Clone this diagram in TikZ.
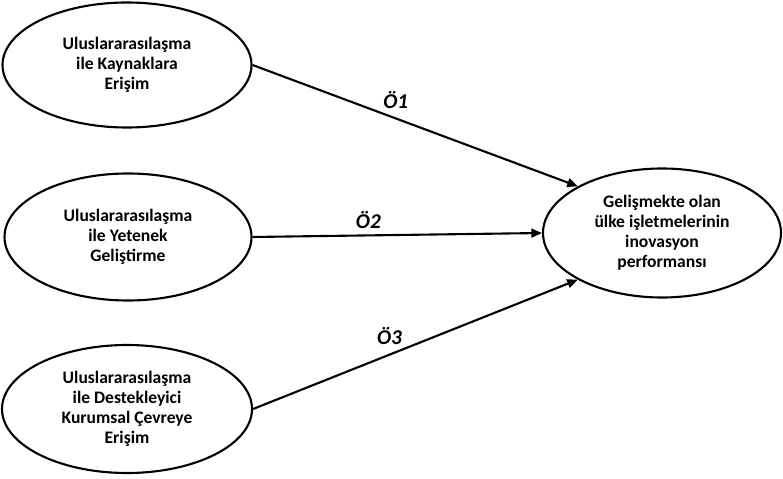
\documentclass[tikz,border=0pt]{standalone}
\usepackage{fontspec}
\setmainfont{Carlito}
\usetikzlibrary{shapes.geometric}
\usetikzlibrary{arrows.meta}

\begin{document}
\begin{tikzpicture}[x=0.02cm, y=-0.02cm,
        oval/.style = {draw, ellipse, line width=1.2pt, inner sep=0pt, align=center,
                font=\fontsize{10}{11.4}\selectfont\bfseries},
        link/.style = {line width=1.2pt, -{Triangle[length=6pt, width=5pt]}},
        tag/.style = {font=\fontsize{12}{14}\selectfont\bfseries\itshape}]
        \useasboundingbox (0,0) rectangle (783,479);
        \node[oval, minimum width=249*0.02cm, minimum height=125*0.02cm] (kaynak) at (127,65)
                {Uluslararasılaşma\\ile Kaynaklara\\Erişim};
        \node[oval, minimum width=247*0.02cm, minimum height=127*0.02cm] (yetenek) at (128,237)
                {Uluslararasılaşma\\ile Yetenek\\Geliştirme};
        \node[oval, minimum width=250*0.02cm, minimum height=128*0.02cm] (kurum) at (127,409)
                {Uluslararasılaşma\\ile Destekleyici\\Kurumsal Çevreye\\Erişim};
        \node[oval, minimum width=238*0.02cm, minimum height=129*0.02cm] (perf) at (662,233)
                {Gelişmekte olan\\ülke işletmelerinin\\inovasyon\\performansı};
        \draw[link] (kaynak.east) -- node[tag, above=1.5pt, pos=0.44]{Ö1} (perf.151);
        \draw[link] (yetenek.east) -- node[tag, above=0pt, pos=0.4]{Ö2} (perf.west);
        \draw[link] (kurum.east) -- node[tag, above=2pt, pos=0.42]{Ö3} (perf.209);
\end{tikzpicture}
\end{document}
